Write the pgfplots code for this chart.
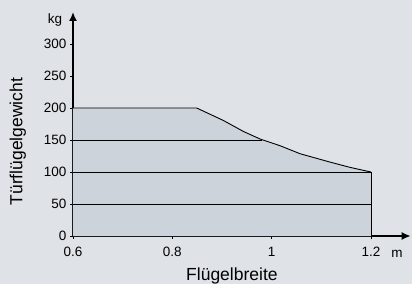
\documentclass[border=0pt]{standalone}
\usepackage{pgfplots}
\pgfplotsset{compat=1.18}
\usepackage{fontspec}
\setmainfont{Liberation Sans}
\usetikzlibrary{arrows.meta}
\definecolor{bg}{HTML}{DFE3E7}
\definecolor{area}{HTML}{CDD3DA}
\definecolor{grid}{HTML}{505050}
\begin{document}
\begin{tikzpicture}
\fill[bg] (-73pt,-48pt) rectangle (339pt,236pt);
\begin{axis}[
  scale only axis,
  width=337.7pt, height=224pt,
  xmin=0.6, xmax=1.28, ymin=0, ymax=350,
  axis lines=left,
  axis line style={line width=1.6pt, -{Latex[length=9pt,width=8pt]}},
  xtick={0.6,0.8,1,1.2}, xticklabels={0.6,0.8,1,1.2},
  ytick={0,50,100,150,200,250,300},
  tick align=outside, major tick length=3pt,
  tick style={black, line width=0.6pt},
  /pgf/number format/assume math mode=true,
  tick label style={font=\fontsize{13.5}{16}\selectfont},
  xticklabel style={yshift=-5pt},
  yticklabel style={xshift=0pt},
  clip=false,
]
\addplot[fill=area, draw=none] coordinates {
(0.6,200) (0.849,200) (0.9026,180.6) (0.943,163.4) (0.9765,151.6) (1.0168,141.1) (1.057,128.6) (1.117,115.6) (1.158,107.2) (1.2,100) (1.2,0) (0.6,0)} -- cycle;
\addplot[grid, line width=1pt] coordinates {(0.6,50) (1.2,50)};
\addplot[grid, line width=1pt] coordinates {(0.6,100) (1.2,100)};
\addplot[grid, line width=1pt] coordinates {(0.6,150) (0.981,150)};
\addplot[black, line width=0.9pt] coordinates {(1.2,0) (1.2,100)};
\addplot[black, line width=0.9pt, line join=round] coordinates {
(0.6,200) (0.849,200) (0.9026,180.6) (0.943,163.4) (0.9765,151.6) (1.0168,141.1) (1.057,128.6) (1.117,115.6) (1.158,107.2) (1.2,100)};
\node[font=\fontsize{13.5}{16}\selectfont] at (axis cs:0.5636,337.5) {kg};
\node[font=\fontsize{13.5}{16}\selectfont] at (axis cs:1.2525,-28) {m};
\node[font=\fontsize{17.5}{20}\selectfont] at (axis cs:0.92,-62) {Flügelbreite};
\node[font=\fontsize{17.5}{20}\selectfont, rotate=90] at (axis cs:0.489,147.5) {Türflügelgewicht};
\end{axis}
\pgfresetboundingbox
\path (-73pt,-48pt) rectangle (339pt,236pt);
\end{tikzpicture}
\end{document}
